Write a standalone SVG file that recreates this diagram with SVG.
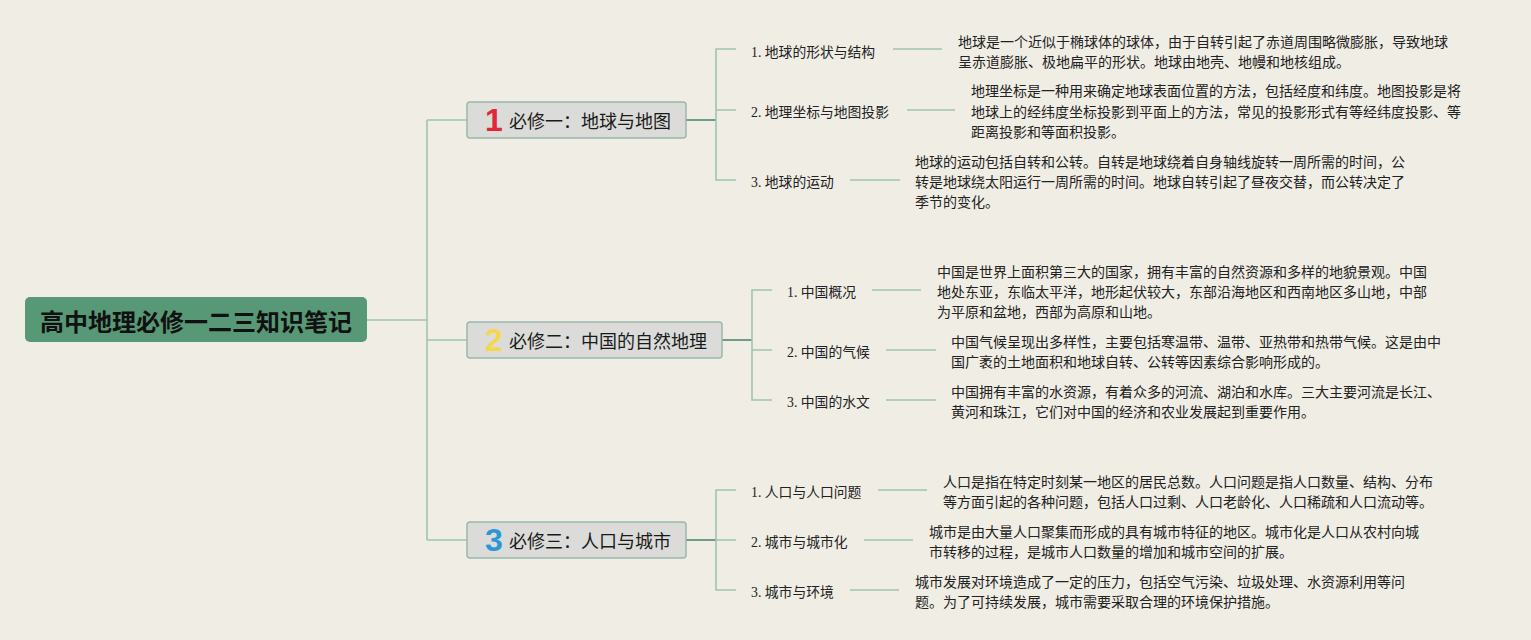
<svg xmlns="http://www.w3.org/2000/svg" width="1531" height="640" viewBox="0 0 1531 640">
<style>
.bg{fill:#EFEDE4}
.ln{fill:none;stroke:#A0C3B3;stroke-width:1.6}
.lnd{fill:none;stroke:#6F9C8A;stroke-width:2}
.root{fill:#579877}
.rt{font-family:"Noto Sans CJK SC","Noto Sans",sans-serif;font-size:24px;font-weight:bold;fill:#111;text-anchor:middle}
.box{fill:#DBDCD9;stroke:#9CB8AA;stroke-width:1.5}
.bt{font-family:"Noto Sans CJK SC","Noto Sans",sans-serif;font-size:18px;fill:#1a1a1a}
.num{font-family:"Liberation Sans",Arial,sans-serif;font-size:32px;font-weight:bold;text-anchor:middle}
.st{font-family:"Noto Sans CJK SC","Noto Sans",sans-serif;font-size:13.8px;fill:#222}
.sn{font-family:"Liberation Serif","Times New Roman",serif}
.dt{font-family:"Noto Sans CJK SC","Noto Sans",sans-serif;font-size:14px;fill:#222}
</style>
<rect class="bg" x="0" y="0" width="1531" height="640"/>
<g id="connectors">
<path class="ln" d="M367,320 H427 M427,120 V540 M427,120 H467 M427,340 H467 M427,540 H467"/>
<path class="lnd" d="M686,120 H716 M722,340 H752 M686,540 H716"/>
<path class="ln" d="M736,49 H716 V180 H736 M716,110 H736"/>
<path class="ln" d="M893,49 H942 M907,110 H955 M850,180 H900"/>
<path class="ln" d="M772,290 H752 V400 H772 M752,350 H772"/>
<path class="ln" d="M872,290 H921 M886,350 H936 M886,400 H936"/>
<path class="ln" d="M736,490 H716 V590 H736 M716,540 H736"/>
<path class="ln" d="M878,490 H927 M864,540 H913 M850,590 H899"/>
</g>
<g id="root">
<rect class="root" x="25" y="297" width="342" height="45" rx="5"/>
<text class="rt" x="196" y="331">高中地理必修一二三知识笔记</text>
</g>
<g id="branch1">
<rect class="box" x="467" y="102" width="219" height="36" rx="3"/>
<text class="num" x="494" y="131" fill="#E02638">1</text>
<text class="bt" x="509" y="128">必修一：地球与地图</text>
</g>
<g id="branch2">
<rect class="box" x="467" y="322" width="255" height="36" rx="3"/>
<text class="num" x="494" y="351" fill="#F4D848">2</text>
<text class="bt" x="509" y="348">必修二：中国的自然地理</text>
</g>
<g id="branch3">
<rect class="box" x="467" y="522" width="219" height="36" rx="3"/>
<text class="num" x="494" y="551" fill="#2A97D8">3</text>
<text class="bt" x="509" y="548">必修三：人口与城市</text>
</g>
<g id="b1-1">
<text class="st" x="751" y="56.5"><tspan class="sn">1. </tspan>地球的形状与结构</text>
</g>
<g id="b1-1-d">
<text class="dt"><tspan x="958" y="46.8">地球是一个近似于椭球体的球体，由于自转引起了赤道周围略微膨胀，导致地球</tspan><tspan x="958" y="66.8">呈赤道膨胀、极地扁平的形状。地球由地壳、地幔和地核组成。</tspan></text>
</g>
<g id="b1-2">
<text class="st" x="751" y="116.5"><tspan class="sn">2. </tspan>地理坐标与地图投影</text>
</g>
<g id="b1-2-d">
<text class="dt"><tspan x="971" y="96.3">地理坐标是一种用来确定地球表面位置的方法，包括经度和纬度。地图投影是将</tspan><tspan x="971" y="116.6">地球上的经纬度坐标投影到平面上的方法，常见的投影形式有等经纬度投影、等</tspan><tspan x="971" y="136.9">距离投影和等面积投影。</tspan></text>
</g>
<g id="b1-3">
<text class="st" x="751" y="187"><tspan class="sn">3. </tspan>地球的运动</text>
</g>
<g id="b1-3-d">
<text class="dt"><tspan x="915" y="166.8">地球的运动包括自转和公转。自转是地球绕着自身轴线旋转一周所需的时间，公</tspan><tspan x="915" y="186.8">转是地球绕太阳运行一周所需的时间。地球自转引起了昼夜交替，而公转决定了</tspan><tspan x="915" y="206.6">季节的变化。</tspan></text>
</g>
<g id="b2-1">
<text class="st" x="787" y="297"><tspan class="sn">1. </tspan>中国概况</text>
</g>
<g id="b2-1-d">
<text class="dt"><tspan x="937" y="276.8">中国是世界上面积第三大的国家，拥有丰富的自然资源和多样的地貌景观。中国</tspan><tspan x="937" y="296.8">地处东亚，东临太平洋，地形起伏较大，东部沿海地区和西南地区多山地，中部</tspan><tspan x="937" y="316.8">为平原和盆地，西部为高原和山地。</tspan></text>
</g>
<g id="b2-2">
<text class="st" x="787" y="357"><tspan class="sn">2. </tspan>中国的气候</text>
</g>
<g id="b2-2-d">
<text class="dt"><tspan x="951" y="346.8">中国气候呈现出多样性，主要包括寒温带、温带、亚热带和热带气候。这是由中</tspan><tspan x="951" y="366.8">国广袤的土地面积和地球自转、公转等因素综合影响形成的。</tspan></text>
</g>
<g id="b2-3">
<text class="st" x="787" y="407"><tspan class="sn">3. </tspan>中国的水文</text>
</g>
<g id="b2-3-d">
<text class="dt"><tspan x="951" y="396.8">中国拥有丰富的水资源，有着众多的河流、湖泊和水库。三大主要河流是长江、</tspan><tspan x="951" y="416.8">黄河和珠江，它们对中国的经济和农业发展起到重要作用。</tspan></text>
</g>
<g id="b3-1">
<text class="st" x="751" y="497"><tspan class="sn">1. </tspan>人口与人口问题</text>
</g>
<g id="b3-1-d">
<text class="dt"><tspan x="943" y="486.8">人口是指在特定时刻某一地区的居民总数。人口问题是指人口数量、结构、分布</tspan><tspan x="943" y="506.8">等方面引起的各种问题，包括人口过剩、人口老龄化、人口稀疏和人口流动等。</tspan></text>
</g>
<g id="b3-2">
<text class="st" x="751" y="547"><tspan class="sn">2. </tspan>城市与城市化</text>
</g>
<g id="b3-2-d">
<text class="dt"><tspan x="929" y="536.8">城市是由大量人口聚集而形成的具有城市特征的地区。城市化是人口从农村向城</tspan><tspan x="929" y="556.8">市转移的过程，是城市人口数量的增加和城市空间的扩展。</tspan></text>
</g>
<g id="b3-3">
<text class="st" x="751" y="597"><tspan class="sn">3. </tspan>城市与环境</text>
</g>
<g id="b3-3-d">
<text class="dt"><tspan x="915" y="586.8">城市发展对环境造成了一定的压力，包括空气污染、垃圾处理、水资源利用等问</tspan><tspan x="915" y="606.8">题。为了可持续发展，城市需要采取合理的环境保护措施。</tspan></text>
</g>
</svg>
